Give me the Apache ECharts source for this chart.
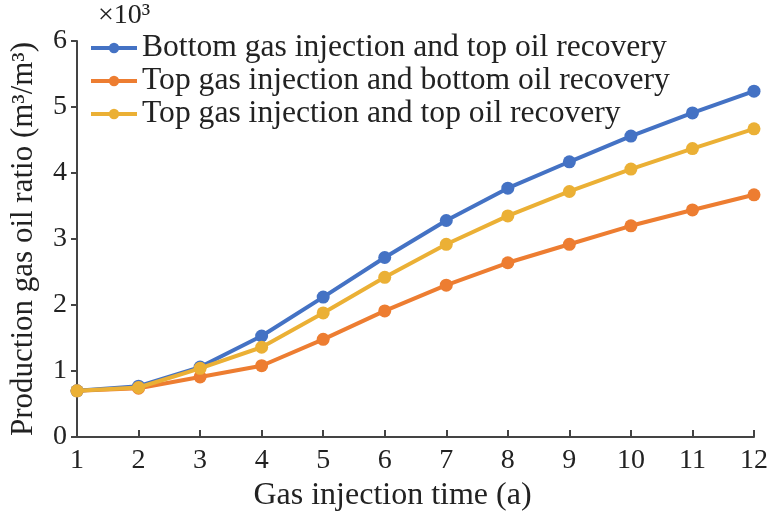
<!DOCTYPE html>
<html>
<head>
<meta charset="utf-8">
<script src="https://cdn.jsdelivr.net/npm/echarts@6/dist/echarts.min.js"></script>
<style>html,body{margin:0;padding:0;background:#fff;}#c{width:783px;height:521px;}</style>
</head>
<body>
<div id="c"></div>
<script>
const categories = ['1','2','3','4','5','6','7','8','9','10','11','12'];
const seriesNames = [
  'Bottom gas injection and top oil recovery',
  'Top gas injection and bottom oil recovery',
  'Top gas injection and top oil recovery'
];
const bottomInjTopRec = [0.70, 0.77, 1.06, 1.53, 2.12, 2.72, 3.28, 3.77, 4.17, 4.56, 4.91, 5.24];
const topInjBottomRec = [0.70, 0.74, 0.91, 1.08, 1.48, 1.91, 2.30, 2.64, 2.92, 3.20, 3.44, 3.67];
const topInjTopRec    = [0.70, 0.75, 1.04, 1.36, 1.88, 2.42, 2.92, 3.35, 3.72, 4.06, 4.37, 4.67];
const yTicks = [0, 6, 1];
const colors = ['#4472C4', '#ED7D31', '#EBB035'];

const font = 'Liberation Serif, Times New Roman, serif';
const chart = echarts.init(document.getElementById('c'));
const data = [bottomInjTopRec, topInjBottomRec, topInjTopRec];
chart.setOption({
  backgroundColor: '#fff',
  animation: false,
  grid: { left: 75, right: 29, top: 41, bottom: 84 },
  legend: {
    left: 84, top: 27, orient: 'vertical', itemWidth: 46, itemHeight: 13, itemGap: 1,
    lineStyle: { width: 4 },
    textStyle: { fontFamily: font, fontSize: 31.6, color: '#222' },
    data: seriesNames
  },
  graphic: [{
    type: 'text', left: 98, top: 2,
    style: { text: '×10³', font: '28px ' + font, fill: '#222' }
  }],
  xAxis: {
    type: 'category', data: categories, boundaryGap: false,
    name: 'Gas injection time (a)', nameLocation: 'middle', nameGap: 38,
    nameTextStyle: { fontFamily: font, fontSize: 32, color: '#222', padding: [0, 46, 0, 0] },
    axisLine: { lineStyle: { color: '#444', width: 2 } },
    axisTick: { inside: true, length: 7, alignWithLabel: true, lineStyle: { color: '#444', width: 2 } },
    axisLabel: { fontFamily: font, fontSize: 28, color: '#222', margin: 10 },
    splitLine: { show: false }
  },
  yAxis: {
    type: 'value', min: yTicks[0], max: yTicks[1], interval: yTicks[2],
    name: 'Production gas oil ratio (m³/m³)', nameLocation: 'middle', nameGap: 38, nameRotate: 90,
    nameTextStyle: { fontFamily: font, fontSize: 31, color: '#222' },
    axisLine: { show: true, lineStyle: { color: '#444', width: 2 } },
    axisTick: { show: true, inside: false, length: 6, lineStyle: { color: '#444', width: 2 } },
    axisLabel: { fontFamily: font, fontSize: 28, color: '#222', margin: 10 },
    splitLine: { show: false }
  },
  series: seriesNames.map((n, i) => ({
    name: n, type: 'line', data: data[i], color: colors[i],
    symbol: 'circle', symbolSize: 13,
    lineStyle: { width: 4, color: colors[i] },
    itemStyle: { color: colors[i] },
    z: i === 2 ? 4 : (i === 0 ? 3 : 2)
  }))
});
</script>
</body>
</html>
